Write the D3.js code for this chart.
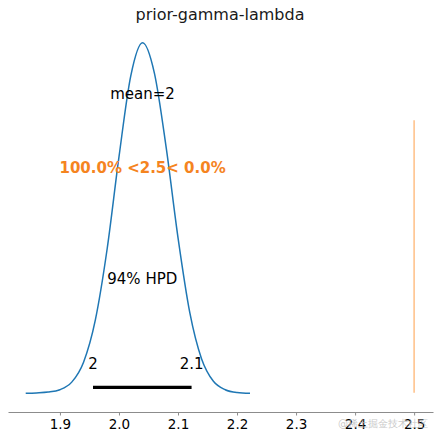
<!DOCTYPE html>
<html lang="en">
<head>
<meta charset="utf-8">
<title>prior-gamma-lambda</title>
<style>
  html, body { margin: 0; padding: 0; background: #fff; }
  svg text { font-family: "DejaVu Sans", sans-serif; }
</style>
</head>
<body>
<div id="chart"></div>
<script src="https://d3js.org/d3.v7.min.js"></script>
<script type="text/javascript">
  // KDE of posterior samples
  const xs = [1.842, 1.86, 1.88, 1.90, 1.92, 1.94, 1.96, 1.98, 2.00, 2.02, 2.04,
              2.06, 2.08, 2.10, 2.12, 2.14, 2.16, 2.18, 2.20, 2.222];
  const density = [0.00, 0.01, 0.03, 0.09, 0.28, 0.78, 1.84, 3.62, 5.92, 7.95, 8.78,
                   8.02, 6.15, 3.90, 2.02, 0.86, 0.30, 0.09, 0.02, 0.00];
  const hpd = [1.956, 2.123];
  const hpdLabels = ["2", "2.1"];
  const meanVal = 2.04;
  const meanLabel = "mean=2";
  const refVal = 2.5;
  const refLabel = "100.0% <2.5< 0.0%";
  const tickValues = [1.9, 2.0, 2.1, 2.2, 2.3, 2.4, 2.5];
  const title = "prior-gamma-lambda";

  const drawChart = () => {
    const width = 440, height = 440;
    const frameTop = 28, frameBottom = 412;

    const x = d3.scaleLinear().domain([1.812, 2.532]).range([8, 433]);
    const y = d3.scaleLinear().domain([0, d3.max(density)]).range([393.3, 42.7]);
    const frameY = d3.scaleLinear().domain([0, 1]).range([frameBottom, frameTop]);

    const svg = d3.select("#chart").append("svg")
        .attr("width", width)
        .attr("height", height)
        .attr("viewBox", [0, 0, width, height]);

    svg.append("text")
        .attr("x", width / 2)
        .attr("y", 14)
        .attr("dy", "0.35em")
        .attr("text-anchor", "middle")
        .attr("font-size", 16)
        .attr("fill", "#1a1a1a")
        .text(title);

    // x axis, only the bottom spine
    const axis = svg.append("g")
        .attr("transform", `translate(0,${frameBottom})`)
        .call(d3.axisBottom(x).tickValues(tickValues).tickFormat(d3.format(".1f"))
          .tickSizeInner(3.5).tickSizeOuter(0).tickPadding(4));
    axis.select(".domain").attr("stroke", "#8c8c8c").attr("stroke-width", 1);
    axis.selectAll(".tick line").attr("stroke", "#8c8c8c");
    axis.selectAll(".tick text")
        .attr("font-size", 13.5)
        .attr("fill", "#000")
        .attr("font-family", "DejaVu Sans, sans-serif");

    // density curve
    const line = d3.line()
        .x((d, i) => x(xs[i]))
        .y(d => y(d))
        .curve(d3.curveMonotoneX);
    svg.append("path")
        .datum(density)
        .attr("fill", "none")
        .attr("stroke", "#1f77b4")
        .attr("stroke-width", 1.5)
        .attr("d", line);

    // reference value line
    svg.append("line")
        .attr("x1", x(refVal)).attr("x2", x(refVal))
        .attr("y1", frameY(0.05)).attr("y2", frameY(0.76))
        .attr("stroke", "#ff7f0e")
        .attr("stroke-opacity", 0.5)
        .attr("stroke-width", 1.5);

    // HPD bar
    svg.append("line")
        .attr("x1", x(hpd[0])).attr("x2", x(hpd[1]))
        .attr("y1", y(0) - 6).attr("y2", y(0) - 6)
        .attr("stroke", "#000")
        .attr("stroke-width", 3.2);

    svg.selectAll("text.hpd-val")
        .data(hpd)
        .join("text")
        .attr("class", "hpd-val")
        .attr("x", d => x(d))
        .attr("y", 364)
        .attr("dy", "0.35em")
        .attr("text-anchor", "middle")
        .attr("font-size", 15)
        .attr("fill", "#000")
        .text((d, i) => hpdLabels[i]);

    const hpdMid = (hpd[0] + hpd[1]) / 2;
    svg.append("text")
        .attr("x", x(hpdMid))
        .attr("y", 279)
        .attr("dy", "0.35em")
        .attr("text-anchor", "middle")
        .attr("font-size", 15)
        .attr("fill", "#000")
        .text("94% HPD");

    svg.append("text")
        .attr("x", x(meanVal))
        .attr("y", 94)
        .attr("dy", "0.35em")
        .attr("text-anchor", "middle")
        .attr("font-size", 15)
        .attr("fill", "#000")
        .text(meanLabel);

    svg.append("text")
        .attr("x", x(meanVal))
        .attr("y", 168)
        .attr("dy", "0.35em")
        .attr("text-anchor", "middle")
        .attr("font-size", 15)
        .attr("font-weight", "bold")
        .attr("fill", "#f5841f")
        .text(refLabel);

    // watermark
    svg.append("text")
        .attr("x", 428)
        .attr("y", 423)
        .attr("dy", "0.35em")
        .attr("text-anchor", "end")
        .attr("font-size", 10)
        .attr("font-family", "Noto Sans CJK SC, sans-serif")
        .attr("fill", "#bbb")
        .attr("fill-opacity", 0.8)
        .text("@稀土掘金技术社区");
  }

  drawChart();
</script>
</body>
</html>
